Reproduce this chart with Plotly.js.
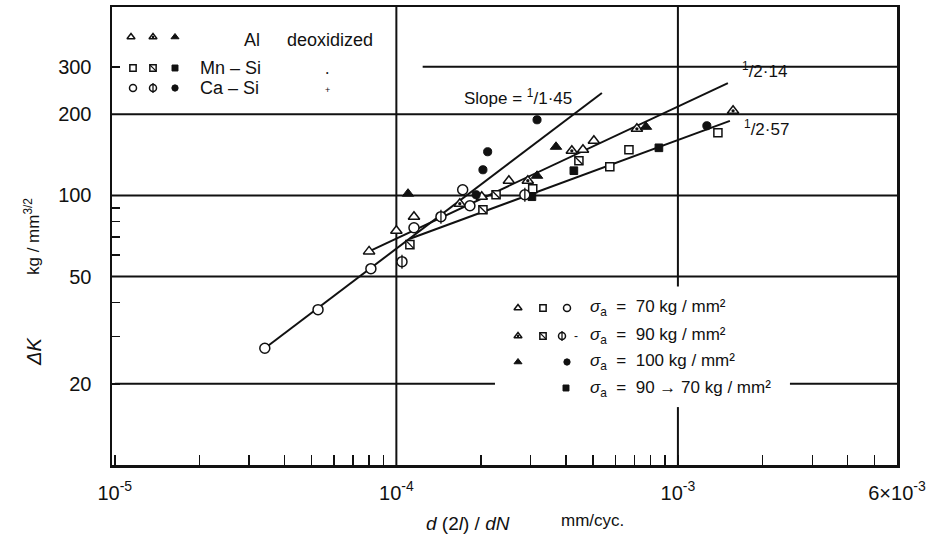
<!DOCTYPE html>
<html><head><meta charset="utf-8">
<script src="https://cdn.plot.ly/plotly-3.0.1.min.js"></script>
<style>body{margin:0;background:#fff}#chart{width:939px;height:540px}</style>
</head><body><div id="chart"></div>
<script>
// ---- data: dK (kg/mm^3/2) vs d(2l)/dN (mm/cycle) ----
// Al deoxidized
const alOpenX = [8.0e-5, 1.0e-4, 1.155e-4, 2.01e-4, 2.51e-4, 4.6e-4, 5.03e-4];
const alOpenY = [62, 74, 83.4, 98.9, 113.4, 147.7, 159.5];
const alHalfX = [1.68e-4, 2.93e-4, 4.2e-4, 7.15e-4, 1.57e-3];
const alHalfY = [93.2, 113.4, 146.4, 176.7, 206];
const alFullX = [1.10e-4, 3.16e-4, 3.69e-4, 7.7e-4];
const alFullY = [101.5, 118.3, 151.5, 179.7];
// Mn-Si
const mnOpenX = [3.05e-4, 5.73e-4, 6.7e-4, 1.387e-3];
const mnOpenY = [105.9, 127.8, 147.7, 170.8];
const mnHalfX = [1.117e-4, 2.03e-4, 2.26e-4, 4.45e-4];
const mnHalfY = [65.7, 88.5, 100.6, 134.5];
// sigma 90 -> 70
const stepX = [3.03e-4, 4.27e-4, 8.56e-4];
const stepY = [98.9, 123.5, 150.2];
// Ca-Si
const caOpenX = [3.41e-5, 5.27e-5, 8.12e-5, 1.155e-4, 1.72e-4, 1.825e-4];
const caOpenY = [27.1, 37.7, 53.5, 75.9, 105.0, 91.6];
const caHalfX = [1.047e-4, 1.44e-4, 2.86e-4];
const caHalfY = [56.8, 83.4, 100.6];
const caFullX = [1.92e-4, 2.03e-4, 2.11e-4, 3.16e-4, 1.267e-3];
const caFullY = [100.6, 124.5, 145.2, 190.8, 181.3];
// fitted lines (end points)
const fit145X = [3.41e-5, 5.37e-4];  const fit145Y = [27.1, 240];
const fit214X = [8.0e-5, 1.505e-3];  const fit214Y = [62, 261];
const fit257X = [1.117e-4, 1.53e-3]; const fit257Y = [69.1, 189];
// axes
const xTickVals = [1e-5,2e-5,3e-5,4e-5,5e-5,6e-5,7e-5,8e-5,9e-5,1e-4,2e-4,3e-4,4e-4,5e-4,6e-4,7e-4,8e-4,9e-4,1e-3,2e-3,3e-3,4e-3,5e-3,6e-3];
const xTickText = ['10<sup>-5</sup>','','','','','','','','','10<sup>-4</sup>','','','','','','','','','10<sup>-3</sup>','','','','','6×10<sup>-3</sup>'];
const yTickVals = [20,30,40,50,60,70,80,90,100,200,300];
const yTickText = ['20','','','50','','','','','100','200','300'];
const yGrid = [50, 100, 200];

const FONT = 'Liberation Sans, Arial, sans-serif';
const K = '#111';

function lineTrace(x, y) {
  return {x, y, mode:'lines', line:{color:K, width:2}, hoverinfo:'skip', showlegend:false};
}
function mk(x, y, symbol, size, fill, lw, xa, ya) {
  return {x, y, mode:'markers', cliponaxis:false, hoverinfo:'skip', showlegend:false,
    xaxis: xa || 'x', yaxis: ya || 'y',
    marker:{symbol, size, color:fill, line:{color:K, width:lw}}};
}
function group(kind, x, y, s, xa, ya) {
  const out = [];
  if (kind === 'triOpen') out.push(mk(x,y,'triangle-up',s,'#fff',1.5,xa,ya));
  if (kind === 'triHalf') { out.push(mk(x,y,'triangle-up',s,'#fff',1.5,xa,ya)); out.push(mk(x,y,'circle',Math.max(2.5,s*0.33),K,0,xa,ya)); }
  if (kind === 'triFull') out.push(mk(x,y,'triangle-up',s,K,1,xa,ya));
  if (kind === 'sqOpen') out.push(mk(x,y,'square',s*0.9,'#fff',1.5,xa,ya));
  if (kind === 'sqHalf') { out.push(mk(x,y,'square',s*0.9,'#fff',1.5,xa,ya)); out.push(mk(x,y,'line-nw',s*0.9,K,1.3,xa,ya)); }
  if (kind === 'sqFull') out.push(mk(x,y,'square',s*0.85,K,1,xa,ya));
  if (kind === 'ciOpen') out.push(mk(x,y,'circle',s,'#fff',1.5,xa,ya));
  if (kind === 'ciHalf') { out.push(mk(x,y,'circle',s,'#fff',1.5,xa,ya)); out.push(mk(x,y,'line-ns',s,K,1.3,xa,ya)); }
  if (kind === 'ciFull') out.push(mk(x,y,'circle',s*0.9,K,1,xa,ya));
  return out;
}

const traces = [
  lineTrace(fit145X, fit145Y), lineTrace(fit214X, fit214Y), lineTrace(fit257X, fit257Y),
  ...group('triOpen', alOpenX, alOpenY, 10),
  ...group('triHalf', alHalfX, alHalfY, 10),
  ...group('triFull', alFullX, alFullY, 10),
  ...group('sqOpen', mnOpenX, mnOpenY, 9),
  ...group('sqHalf', mnHalfX, mnHalfY, 9),
  ...group('sqFull', stepX, stepY, 9),
  ...group('ciOpen', caOpenX, caOpenY, 10),
  ...group('ciHalf', caHalfX, caHalfY, 10),
  ...group('ciFull', caFullX, caFullY, 9),
];

// legend glyphs, placed on a pixel overlay axis
const LG = (kind, px, py, s) => group(kind, [px], [py], s || 7, 'x2', 'y2');
traces.push(
  ...LG('triOpen',131,37), ...LG('triHalf',153,37), ...LG('triFull',175,37),
  ...LG('sqOpen',133,68), ...LG('sqHalf',153,68), ...LG('sqFull',175,68),
  ...LG('ciOpen',133,88), ...LG('ciHalf',153,88), ...LG('ciFull',175,88),
  ...LG('triOpen',518,308), ...LG('sqOpen',543,308), ...LG('ciOpen',567,308),
  ...LG('triHalf',518,336), ...LG('sqHalf',543,336), ...LG('ciHalf',562,336),
  ...LG('triFull',518,362), ...LG('ciFull',567,362),
  ...LG('sqFull',566,388)
);

// grid lines
const shapes = [];
const gl = {color:K, width:2};
yGrid.forEach(v => shapes.push({type:'line', xref:'x domain', yref:'y', x0:0, x1:1, y0:v, y1:v, line:gl, layer:'below'}));
shapes.push({type:'line', xref:'x', yref:'y', x0:1.24e-4, x1:6e-3, y0:300, y1:300, line:gl, layer:'below'});
shapes.push({type:'line', xref:'x', yref:'y', x0:1e-5, x1:2.24e-4, y0:20, y1:20, line:gl, layer:'below'});
shapes.push({type:'line', xref:'x', yref:'y', x0:2.5e-3, x1:6e-3, y0:20, y1:20, line:gl, layer:'below'});
shapes.push({type:'line', xref:'x', yref:'y domain', x0:1e-4, x1:1e-4, y0:0, y1:1, line:gl, layer:'below'});
shapes.push({type:'line', xref:'x', yref:'y', x0:1e-3, x1:1e-3, y0:10, y1:16.4, line:gl, layer:'below'});
shapes.push({type:'line', xref:'x', yref:'y', x0:1e-3, x1:1e-3, y0:45.9, y1:500, line:gl, layer:'below'});

function ann(text, x, y, size, opts) {
  return Object.assign({text, x, y, xref:'x2', yref:'y2', showarrow:false, xanchor:'left', yanchor:'middle',
    font:{family:FONT, size:size, color:K}}, opts || {});
}
// page-pixel -> paper coordinates (for texts outside the plot area)
const PX = (px) => (px - 112) / 785;
const PY = (py) => (465 - py) / 458;
function pann(text, px, py, size, opts) {
  return Object.assign({text, x:PX(px), y:PY(py), xref:'paper', yref:'paper', showarrow:false,
    xanchor:'center', yanchor:'middle', font:{family:FONT, size:size, color:K}}, opts || {});
}
const sig = (v) => '<i>σ</i><sub>a</sub>  =  ' + v + ' kg / mm²';
const annotations = [
  ann('Al', 242, 40, 18), ann('deoxidized', 285, 40, 18),
  ann('Mn – Si', 198, 68, 18), ann('Ca – Si', 198, 88, 18),
  ann('•', 324, 72, 7), ann('+', 323, 90, 9),
  ann('Slope = <sup>1</sup>/1·45', 462, 97, 17),
  ann('<sup>1</sup>/2·14', 740, 70, 17),
  ann('<sup>1</sup>/2·57', 742, 128, 17),
  ann(sig('70'), 588, 308, 17), ann(sig('90'), 588, 336, 17),
  ann(sig('100'), 588, 362, 17), ann(sig('90 → 70'), 588, 389, 17),
  ann('-', 572, 336, 12),
  pann('<i>ΔK</i>', 34, 352, 20, {textangle:-90}),
  pann('kg / mm<sup>3/2</sup>', 32, 237, 17, {textangle:-90}),
  pann('<i>d</i> (2<i>l</i>) / <i>dN</i>', 468, 523, 19),
  pann('mm/cyc.', 592, 520, 17)
];

const layout = {
  width:939, height:540, paper_bgcolor:'#fff', plot_bgcolor:'#fff',
  margin:{l:112, r:42, t:7, b:75}, showlegend:false,
  font:{family:FONT, color:K},
  xaxis:{type:'log', range:[-5.01, Math.log10(6e-3)], tickmode:'array', tickvals:xTickVals, ticktext:xTickText,
    ticks:'inside', ticklen:10, tickwidth:1.5, tickcolor:K, showline:true, mirror:true, linecolor:K, linewidth:2.5,
    showgrid:false, zeroline:false, tickfont:{size:20, family:FONT}, ticklabelstandoff:8},
  yaxis:{type:'log', range:[1, Math.log10(500)], tickmode:'array', tickvals:yTickVals, ticktext:yTickText,
    ticks:'inside', ticklen:8, tickwidth:1.5, tickcolor:K, showline:true, mirror:true, linecolor:K, linewidth:2.5,
    showgrid:false, zeroline:false, tickfont:{size:20, family:FONT}, ticklabelstandoff:14},
  xaxis2:{overlaying:'x', anchor:'y2', range:[112, 897], visible:false, fixedrange:true},
  yaxis2:{overlaying:'y', anchor:'x2', range:[465, 7], visible:false, fixedrange:true},
  shapes, annotations
};
Plotly.newPlot('chart', traces, layout, {staticPlot:true, displayModeBar:false});
</script></body></html>
